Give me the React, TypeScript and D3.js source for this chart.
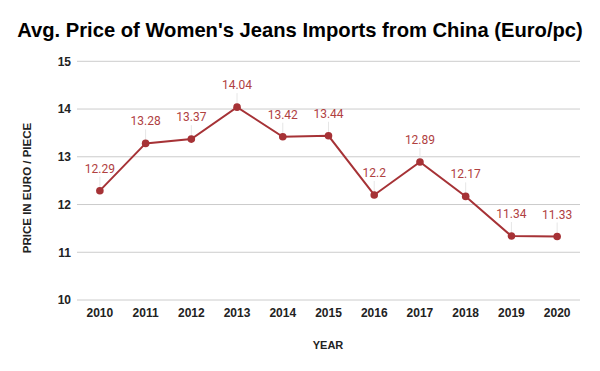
import React from 'react';
import * as d3 from 'd3';

const years = ['2010', '2011', '2012', '2013', '2014', '2015', '2016', '2017', '2018', '2019', '2020'];
const prices = [12.29, 13.28, 13.37, 14.04, 13.42, 13.44, 12.2, 12.89, 12.17, 11.34, 11.33];
const yTicks = [10, 11, 12, 13, 14, 15];

const W = 600;
const H = 371;
const LINE = '#a63236';
const LABEL = '#b0413f';

const App = () => {
  const x = d3.scaleBand<string>().domain(years).range([77, 580]);
  const y = d3.scaleLinear().domain([10, 15]).range([300, 61.3]);
  const cx = (d: string) => (x(d) ?? 0) + x.bandwidth() / 2;

  const line = d3
    .line<number>()
    .x((_, i) => cx(years[i]))
    .y((d) => y(d));

  return (
    <svg
      width={W}
      height={H}
      style={{ position: 'absolute', left: 0, top: 0, background: '#fff' }}
      fontFamily="'Liberation Sans', Arial, sans-serif"
    >
      <text x={300} y={37} textAnchor="middle" fontSize={20.2} fontWeight="bold" fill="#000">
        Avg. Price of Women's Jeans Imports from China (Euro/pc)
      </text>

      {/* grid + y tick labels */}
      {yTicks.map((t) => (
        <g key={t}>
          <line x1={77} x2={580} y1={y(t)} y2={y(t)} stroke="#cccccc" strokeWidth={1} />
          <text x={71} y={y(t) + 4.3} textAnchor="end" fontSize={12} fontWeight="bold" fill="#222">
            {t}
          </text>
        </g>
      ))}

      {/* x tick labels */}
      {years.map((yr) => (
        <text key={yr} x={cx(yr)} y={317} textAnchor="middle" fontSize={12} fontWeight="bold" fill="#222">
          {yr}
        </text>
      ))}

      <text x={328} y={349} textAnchor="middle" fontSize={11} fontWeight="bold" fill="#222">
        YEAR
      </text>
      <text
        transform={`translate(31,188) rotate(-90)`}
        textAnchor="middle"
        fontSize={11.5}
        fontWeight="bold"
        fill="#222"
      >
        PRICE IN EURO / PIECE
      </text>

      {/* leader lines */}
      {prices.map((p, i) => (
        <line
          key={'l' + i}
          x1={cx(years[i])}
          x2={cx(years[i])}
          y1={y(p) - 14}
          y2={y(p) - 3}
          stroke="#e6e6e6"
          strokeWidth={1}
        />
      ))}

      <path d={line(prices) ?? ''} fill="none" stroke={LINE} strokeWidth={2} />

      {prices.map((p, i) => (
        <circle key={'c' + i} cx={cx(years[i])} cy={y(p)} r={3.8} fill={LINE} />
      ))}

      {prices.map((p, i) => (
        <text
          key={'t' + i}
          x={cx(years[i])}
          y={y(p) - 18}
          textAnchor="middle"
          fontSize={12}
          fontFamily="Roboto, sans-serif"
          fill={LABEL}
        >
          {String(p)}
        </text>
      ))}
    </svg>
  );
};

export default App;
